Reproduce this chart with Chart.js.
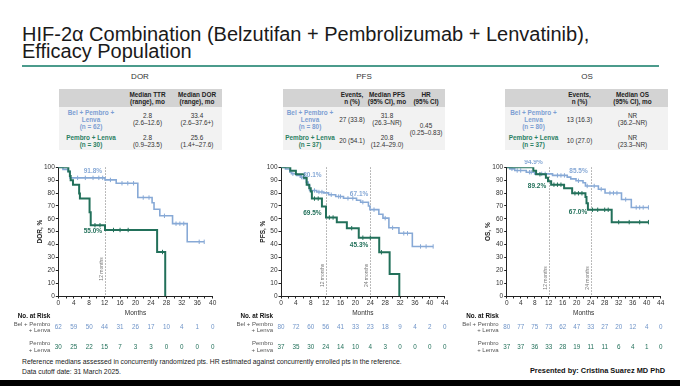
<!DOCTYPE html>
<html>
<head>
<meta charset="utf-8">
<script src="https://cdn.jsdelivr.net/npm/chart.js@4.4.0/dist/chart.umd.min.js"></script>
<style>
body { margin: 0; width: 680px; height: 386px; position: relative; overflow: hidden; background: #fff; font-family: "Liberation Sans", Arial, sans-serif; }
.title { position: absolute; left: 22px; top: 26px; font-size: 20px; line-height: 16.7px; color: #1a1a1a; white-space: nowrap; }
.rule { position: absolute; left: 22px; top: 65px; width: 637px; height: 2px; background: #4b9b8c; }
.sec { position: absolute; top: 72px; font-size: 8px; color: #333; transform: translateX(-50%); }
table.t { position: absolute; top: 89px; border-collapse: collapse; table-layout: fixed; font-size: 6.4px; line-height: 7px; color: #333; text-align: center; }
table.t td, table.t th { padding: 0; }
table.t tr.h { background: #d3d3d3; height: 18px; }
table.t tr.h th { font-weight: bold; color: #222; }
table.t tr.r1 { background: #f2f2f2; height: 24px; }
table.t tr.r2 { background: #f2f2f2; height: 19px; }
.lb { color: #7d9fd3; font-weight: bold; }
.lg { color: #2a8062; font-weight: bold; }
canvas { position: absolute; top: 160px; }
.foot { position: absolute; left: 22px; top: 356.5px; font-size: 6.8px; line-height: 10.5px; color: #222; }
.pres { position: absolute; right: 15px; top: 366px; font-size: 7.4px; font-weight: bold; color: #111; }
.band { position: absolute; left: 0; top: 380px; width: 680px; height: 6px; background: #000; }
</style>
</head>
<body>
<div class="title">HIF-2α Combination (Belzutifan + Pembrolizumab + Lenvatinib),<br>Efficacy Population</div>
<div class="rule"></div>

<div class="sec" style="left:140px">DOR</div>
<div class="sec" style="left:364px">PFS</div>
<div class="sec" style="left:587px">OS</div>

<table class="t" style="left:59px;width:163px">
<colgroup><col style="width:64px"><col style="width:49px"><col style="width:50px"></colgroup>
<tr class="h"><th></th><th>Median TTR<br>(range), mo</th><th>Median DOR<br>(range), mo</th></tr>
<tr class="r1"><td class="lb">Bel + Pembro +<br>Lenva<br>(n = 62)</td><td>2.8<br>(2.6–12.6)</td><td>33.4<br>(2.6–37.6+)</td></tr>
<tr class="r2"><td class="lg">Pembro + Lenva<br>(n = 30)</td><td>2.8<br>(0.9–23.5)</td><td>25.6<br>(1.4+–27.6)</td></tr>
</table>

<table class="t" style="left:283px;width:162px">
<colgroup><col style="width:54px"><col style="width:30px"><col style="width:40px"><col style="width:38px"></colgroup>
<tr class="h"><th></th><th>Events,<br>n (%)</th><th>Median PFS<br>(95% CI), mo</th><th>HR<br>(95% CI)</th></tr>
<tr class="r1"><td class="lb">Bel + Pembro +<br>Lenva<br>(n = 80)</td><td>27 (33.8)</td><td>31.8<br>(26.3–NR)</td><td rowspan="2">0.45<br>(0.25–0.83)</td></tr>
<tr class="r2"><td class="lg">Pembro + Lenva<br>(n = 37)</td><td>20 (54.1)</td><td>20.8<br>(12.4–29.0)</td></tr>
</table>

<table class="t" style="left:505px;width:163px">
<colgroup><col style="width:57px"><col style="width:35px"><col style="width:71px"></colgroup>
<tr class="h"><th></th><th>Events,<br>n (%)</th><th>Median OS<br>(95% CI), mo</th></tr>
<tr class="r1"><td class="lb">Bel + Pembro +<br>Lenva<br>(n = 80)</td><td>13 (16.3)</td><td>NR<br>(36.2–NR)</td></tr>
<tr class="r2"><td class="lg">Pembro + Lenva<br>(n = 37)</td><td>10 (27.0)</td><td>NR<br>(23.3–NR)</td></tr>
</table>

<canvas id="dor" width="215" height="195" style="left:8px"></canvas>
<canvas id="pfs" width="225" height="195" style="left:230px"></canvas>
<canvas id="os" width="222" height="195" style="left:458px"></canvas>

<div class="foot">Reference medians assessed in concurrently randomized pts. HR estimated against concurrently enrolled pts in the reference.<br>Data cutoff date: 31 March 2025.</div>
<div class="pres">Presented by: Cristina Suarez MD PhD</div>
<div class="band"></div>

<script>
// ---- DOR ----
const dorBelTime = [0, 1.2, 2.5, 3.0, 12.1, 15.0, 20.6, 24.3, 24.8, 26.3, 29.6, 33.4, 37.8];
const dorBelSurv = [100, 98.4, 96.8, 91.8, 90.2, 87.6, 76.5, 72.5, 67.4, 62.3, 56.2, 42.1, 42.1];
const dorBelCens = [5, 7, 9, 10.5, 11.5, 13.5, 16.5, 18, 19.5, 22, 23.5, 27.5, 30.5, 31.5, 32.5, 36.5, 37.8];
const dorPemTime = [0, 2.6, 3.0, 3.2, 3.8, 5.4, 5.6, 8.1, 8.4, 12.1, 25.6, 27.7];
const dorPemSurv = [100, 96.7, 93.3, 90.0, 86.4, 79.7, 75.8, 65.0, 55.0, 51.3, 34.2, 0];
const dorPemCens = [9.5, 10.8, 14.3, 16.0, 18.1, 27.0];
const dorTicks = [0, 4, 8, 12, 16, 20, 24, 28, 32, 36, 40];
const dorRiskBel = [62, 59, 50, 44, 31, 26, 17, 10, 4, 1, 0];
const dorRiskPem = [30, 25, 22, 15, 7, 3, 3, 0, 0, 0, 0];
const dorMarks = [12];
const dorLandBel = [91.8];
const dorLandPem = [55.0];

// ---- PFS ----
const pfsBelTime = [0, 1.2, 2.4, 2.8, 4.2, 5.2, 6.0, 6.8, 7.3, 7.7, 9.6, 11.5, 12.8, 14.7, 16.8, 20.3, 21.4, 23.5, 23.9, 26.3, 27.4, 29.0, 31.7, 35.3, 40.9];
const pfsBelSurv = [100, 98.7, 96.2, 95.0, 93.7, 92.4, 91.1, 88.5, 85.9, 82.0, 80.8, 80.1, 78.7, 77.3, 75.9, 74.4, 72.9, 69.9, 67.1, 63.5, 60.5, 53.0, 48.7, 38.5, 38.5];
const pfsBelCens = [3.2, 5.5, 9, 10.2, 11, 13.5, 15.5, 16, 18, 19.3, 22, 25, 28, 30, 33, 34, 37.5, 39, 40.9];
const pfsPemTime = [0, 2.5, 4.0, 6.2, 6.9, 7.6, 8.0, 8.3, 11.0, 12.1, 15.0, 17.7, 20.9, 26.4, 29.2, 31.8];
const pfsPemSurv = [100, 97.3, 94.6, 91.9, 86.5, 83.8, 81.1, 75.7, 69.5, 61.0, 57.4, 52.7, 45.3, 34.0, 17.0, 0];
const pfsPemCens = [9, 10, 13, 14, 19, 22, 24, 27];
const pfsTicks = [0, 4, 8, 12, 16, 20, 24, 28, 32, 36, 40, 44];
const pfsRiskBel = [80, 72, 60, 56, 41, 33, 23, 18, 9, 4, 2, 0];
const pfsRiskPem = [37, 35, 30, 24, 14, 10, 4, 3, 0, 0, 0, 0];
const pfsMarks = [12, 24];
const pfsLandBel = [80.1, 67.1];
const pfsLandPem = [69.5, 45.3];

// ---- OS ----
const osBelTime = [0, 0.9, 2.3, 5.6, 8.0, 13.1, 17.3, 18.3, 19.8, 21.8, 22.5, 26.2, 28.1, 32.8, 35.6, 40.5];
const osBelSurv = [100, 98.8, 97.5, 96.2, 94.9, 93.7, 92.4, 91.0, 89.5, 88.0, 85.5, 83.0, 80.0, 75.0, 68.8, 68.8];
const osBelCens = [1.5, 3, 4, 6.5, 7, 10, 11, 14.5, 15.5, 16.5, 20.5, 23, 25, 27, 29.5, 30.5, 31.5, 34, 37, 38, 39, 40.5];
const osPemTime = [0, 7.6, 8.4, 11.2, 11.8, 12.7, 16.4, 18.7, 22.5, 22.8, 23.2, 30.0, 40.5];
const osPemSurv = [100, 97.3, 94.6, 91.9, 89.2, 86.5, 83.8, 79.8, 77.0, 72.0, 67.0, 57.4, 57.4];
const osPemCens = [9.5, 13.5, 14.5, 15.5, 19.5, 20.5, 21.5, 24.5, 26, 28, 29, 32, 35, 38, 40.5];
const osTicks = [0, 4, 8, 12, 16, 20, 24, 28, 32, 36, 40, 44];
const osRiskBel = [80, 77, 75, 73, 62, 47, 33, 27, 20, 12, 4, 0];
const osRiskPem = [37, 37, 36, 33, 28, 19, 11, 11, 6, 4, 1, 0];
const osMarks = [12, 24];
const osLandBel = [94.9, 85.5];
const osLandPem = [89.2, 67.0];

const BLUE = '#87a9d6';
const GREEN = '#22705a';
const FONT = '"Liberation Sans", Arial, sans-serif';

function pts(t, s) { return t.map((x, i) => ({ x, y: s[i] })); }
function survAt(t, s, x) {
	let v = s[0];
	for (let i = 0; i < t.length; i++) if (t[i] <= x) v = s[i];
	return v;
}
function censPts(t, s, c) { return c.map(x => ({ x, y: survAt(t, s, x) })); }

const kmExtras = {
	id: 'kmExtras',
	beforeDatasetsDraw(chart, args, o) {
		const { ctx, chartArea, scales: { x, y } } = chart;
		ctx.save();
		o.marks.forEach(m => {
			const px = Math.round(x.getPixelForValue(m)) + 0.5;
			ctx.strokeStyle = '#8c8c8c';
			ctx.lineWidth = 0.8;
			ctx.setLineDash([1.5, 1.5]);
			ctx.beginPath();
			ctx.moveTo(px, chartArea.top);
			ctx.lineTo(px, chartArea.bottom);
			ctx.stroke();
			ctx.setLineDash([]);
			ctx.save();
			ctx.translate(px - 3.5, y.getPixelForValue(o.markLabelAt));
			ctx.rotate(-Math.PI / 2);
			ctx.font = '5px ' + FONT;
			ctx.fillStyle = '#7a7a7a';
			ctx.textAlign = 'center';
			ctx.textBaseline = 'middle';
			ctx.fillText(m + ' months', 0, 0);
			ctx.restore();
		});
		ctx.restore();
	},
	afterDatasetsDraw(chart, args, o) {
		const { ctx, scales: { x, y } } = chart;
		ctx.save();
		ctx.font = 'bold 6.5px ' + FONT;
		ctx.textAlign = 'right';
		ctx.textBaseline = 'middle';
		o.labels.forEach(l => {
			ctx.fillStyle = l.color;
			ctx.fillText(l.value.toFixed(1) + '%', x.getPixelForValue(l.at) + l.dx, y.getPixelForValue(l.value) + l.dy);
		});
		ctx.restore();
	},
	afterDraw(chart, args, o) {
		const { ctx, scales: { x } } = chart;
		const ax = x.getPixelForValue(0);
		ctx.save();
		ctx.textBaseline = 'middle';
		ctx.textAlign = 'right';
		ctx.fillStyle = '#111';
		ctx.font = 'bold 6.3px ' + FONT;
		ctx.fillText('No. at Risk', ax - 8, 156);
		ctx.font = '6px ' + FONT;
		ctx.fillStyle = '#555';
		ctx.fillText('Bel + Pembro', ax - 8, 164);
		ctx.fillText('+ Lenva', ax - 8, 170.5);
		ctx.fillText('Pembro', ax - 8, 183.5);
		ctx.fillText('+ Lenva', ax - 8, 190);
		ctx.textAlign = 'center';
		ctx.font = '6.3px ' + FONT;
		o.riskTimes.forEach((t, i) => {
			const px = x.getPixelForValue(t);
			ctx.fillStyle = '#6f94c8';
			ctx.fillText(String(o.riskBel[i]), px, 167.5);
			ctx.fillStyle = GREEN;
			ctx.fillText(String(o.riskPem[i]), px, 187);
		});
		ctx.restore();
	}
};

function kmChart(id, cfg) {
	const lbls = [];
	cfg.marks.forEach((m, i) => {
		lbls.push({ at: m, value: cfg.landBel[i], color: BLUE, dx: cfg.offBel[i][0], dy: cfg.offBel[i][1] });
		lbls.push({ at: m, value: cfg.landPem[i], color: GREEN, dx: cfg.offPem[i][0], dy: cfg.offPem[i][1] });
	});
	return new Chart(document.getElementById(id), {
		type: 'line',
		data: {
			datasets: [
				{ data: pts(cfg.pemT, cfg.pemS), borderColor: GREEN, borderWidth: 2, stepped: true, pointRadius: 0, fill: false },
				{ data: censPts(cfg.pemT, cfg.pemS, cfg.pemC), showLine: false, pointStyle: 'line', rotation: 90, pointRadius: 2.2, borderColor: GREEN, borderWidth: 1 },
				{ data: pts(cfg.belT, cfg.belS), borderColor: BLUE, borderWidth: 1.6, stepped: true, pointRadius: 0, fill: false },
				{ data: censPts(cfg.belT, cfg.belS, cfg.belC), showLine: false, pointStyle: 'line', rotation: 90, pointRadius: 2.2, borderColor: BLUE, borderWidth: 1 }
			]
		},
		options: {
			responsive: false,
			animation: false,
			devicePixelRatio: 1,
			layout: { padding: cfg.pad },
			plugins: {
				legend: { display: false },
				tooltip: { enabled: false },
				kmExtras: { marks: cfg.marks, markLabelAt: cfg.markLabelAt, labels: lbls, riskTimes: cfg.ticks, riskBel: cfg.riskBel, riskPem: cfg.riskPem }
			},
			scales: {
				x: {
					type: 'linear', min: 0, max: cfg.xMax,
					afterFit: s => { s.height = 21; },
					border: { color: '#222', width: 1 },
					grid: { drawOnChartArea: false, tickLength: 2.5, color: '#222' },
					ticks: { stepSize: 2, autoSkip: false, maxRotation: 0, padding: 1, color: '#333', font: { size: 6.5, family: FONT },
						callback: v => (v % 4 === 0 ? v : '') },
					title: { display: true, text: 'Months', color: '#333', font: { size: 6.5, family: FONT }, padding: 0 }
				},
				y: {
					min: 0, max: 100,
					afterFit: s => { s.width = 22; },
					border: { color: '#222', width: 1 },
					grid: { drawOnChartArea: false, tickLength: 2.5, color: '#222' },
					ticks: { stepSize: 10, padding: 1, color: '#333', font: { size: 6.5, family: FONT } },
					title: { display: true, text: cfg.yTitle, color: '#222', font: { size: 6.5, weight: 'bold', family: FONT }, padding: 0 }
				}
			}
		},
		plugins: [kmExtras]
	});
}

kmChart('dor', {
	belT: dorBelTime, belS: dorBelSurv, belC: dorBelCens,
	pemT: dorPemTime, pemS: dorPemSurv, pemC: dorPemCens,
	ticks: dorTicks, riskBel: dorRiskBel, riskPem: dorRiskPem,
	marks: dorMarks, landBel: dorLandBel, landPem: dorLandPem,
	offBel: [[-2.5, -6.5]], offPem: [[-2.5, 5.5]],
	markLabelAt: 21, xMax: 40, yTitle: 'DOR, %',
	pad: { left: 28.3, right: 10.3, top: 7.3, bottom: 38 }
});
kmChart('pfs', {
	belT: pfsBelTime, belS: pfsBelSurv, belC: pfsBelCens,
	pemT: pfsPemTime, pemS: pfsPemSurv, pemC: pfsPemCens,
	ticks: pfsTicks, riskBel: pfsRiskBel, riskPem: pfsRiskPem,
	marks: pfsMarks, landBel: pfsLandBel, landPem: pfsLandPem,
	offBel: [[-4, -18], [-2, -15]], offPem: [[-4, 6.5], [-2, 8]],
	markLabelAt: 16, xMax: 44, yTitle: 'PFS, %',
	pad: { left: 29, right: 10.3, top: 7.3, bottom: 38 }
});
kmChart('os', {
	belT: osBelTime, belS: osBelSurv, belC: osBelCens,
	pemT: osPemTime, pemS: osPemSurv, pemC: osPemCens,
	ticks: osTicks, riskBel: osRiskBel, riskPem: osRiskPem,
	marks: osMarks, landBel: osLandBel, landPem: osLandPem,
	offBel: [[-6, -11.5], [-3, -14.5]], offPem: [[-2.5, 5.5], [-3.5, 2]],
	markLabelAt: 14, xMax: 44, yTitle: 'OS, %',
	pad: { left: 26.7, right: 19.3, top: 7.3, bottom: 38 }
});
</script>
</body>
</html>
